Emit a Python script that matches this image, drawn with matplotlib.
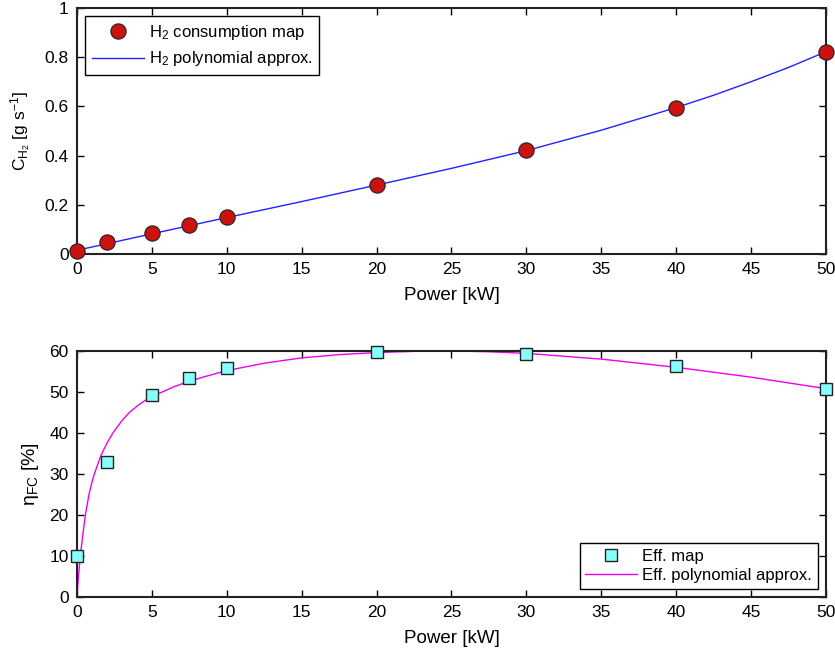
import matplotlib
matplotlib.use("Agg")
import matplotlib.pyplot as plt

plt.rcParams["font.family"] = ["Liberation Sans", "DejaVu Sans"]
plt.rcParams["mathtext.fontset"] = "custom"
plt.rcParams["mathtext.rm"] = "Liberation Sans"
plt.rcParams["mathtext.it"] = "Liberation Sans"
plt.rcParams["mathtext.default"] = "regular"

# H2 consumption map (points) and polynomial approximation (curve)
power_map = [0, 2, 5, 7.5, 10, 20, 30, 40, 50]
h2_map = [0.012, 0.05, 0.085, 0.117, 0.15, 0.28, 0.422, 0.595, 0.822]
power_h2_fit = [0, 5, 10, 15, 20, 25, 30, 35, 40, 42.5, 45, 47.5, 50]
h2_fit = [0.015, 0.082, 0.148, 0.213, 0.28, 0.348, 0.42, 0.503, 0.595, 0.645,
          0.70, 0.758, 0.822]

# efficiency map (points) and polynomial approximation (curve)
eff_map = [10, 33, 49.2, 53.3, 55.8, 59.7, 59.2, 56.2, 50.8]
power_eff_fit = [0, 0.05, 0.1, 0.22, 0.35, 0.56, 0.8, 1.0, 1.16, 1.4, 1.6, 2.0,
                 2.4, 3.0, 3.5, 4.0, 4.5, 5.0, 5.7, 6.5, 7.5, 8.5, 10, 12.5,
                 15, 17.5, 20, 22.5, 25, 27.5, 30, 35, 40, 45, 50]
eff_fit = [0, 2.6, 5, 10, 14, 20, 25, 28, 30, 32.5, 34.5, 37.5,
           40, 43, 45, 46.5, 47.8, 48.9, 50, 51.3, 52.6, 53.7, 55.2, 57,
           58.3, 59.1, 59.6, 59.9, 60, 59.8, 59.4, 58, 56, 53.6, 50.8]

fig = plt.figure(figsize=(8.35, 6.58), dpi=100)
ax1 = fig.add_axes([0.0922, 0.614, 0.897, 0.374])
ax2 = fig.add_axes([0.0922, 0.0927, 0.897, 0.374])

ax1.plot(power_map, h2_map, "o", color="#cc1111", mec="#222222", mew=0.8,
         ms=11, clip_on=False, zorder=3, label=r"H$_2$ consumption map")
ax1.plot(power_h2_fit, h2_fit, "-", color="#2222ff", lw=1,
         label=r"H$_2$ polynomial approx.")
ax1.set_ylim(0, 1)
ax1.set_yticks([0, 0.2, 0.4, 0.6, 0.8, 1])
ax1.set_yticklabels(["0", "0.2", "0.4", "0.6", "0.8", "1"])
ax1.set_ylabel(r"C$_{H_2}$ [g s$^{-1}$]", fontsize=12.5, labelpad=8)
ax1.legend(loc="upper left", numpoints=1, fancybox=False, edgecolor="black",
           framealpha=1, fontsize=12, borderaxespad=0.5, handlelength=3.1,
           handletextpad=0.3, borderpad=0.4, labelspacing=0.45)

ax2.plot(power_map, eff_map, "s", color="#88ffff", mec="#222222", mew=1,
         ms=9, clip_on=False, zorder=3, label="Eff. map")
ax2.plot(power_eff_fit, eff_fit, "-", color="#ee00ee", lw=1,
         label="Eff. polynomial approx.")
ax2.set_ylim(0, 60)
ax2.set_yticks(range(0, 61, 10))
ax2.set_ylabel(r"$\eta_{FC}$ [%]", fontsize=14, labelpad=6)
ax2.legend(loc="lower right", numpoints=1, fancybox=False, edgecolor="black",
           framealpha=1, fontsize=12, borderaxespad=0.5, handlelength=3.1,
           handletextpad=0.3, borderpad=0.35, labelspacing=0.25)

for ax in (ax1, ax2):
    ax.set_xlim(0, 50)
    ax.set_xticks(range(0, 51, 5))
    ax.set_xlabel("Power [kW]", fontsize=13.5, labelpad=7)
    ax.tick_params(direction="in", length=5, width=1, top=True, right=True,
                   labelsize=12.5, pad=6)
    for s in ax.spines.values():
        s.set_linewidth(1.5)
        s.set_color("#222222")

fig.savefig("out.png", dpi=100)
